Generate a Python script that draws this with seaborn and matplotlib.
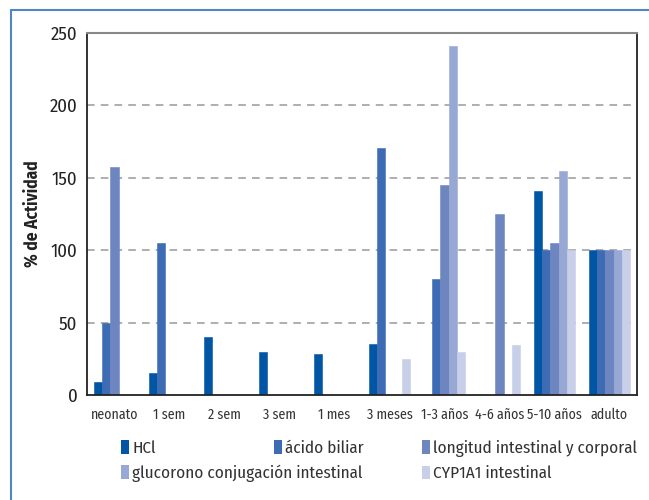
import matplotlib
matplotlib.use("Agg")
import matplotlib.pyplot as plt
from matplotlib.lines import Line2D
from matplotlib.patches import Patch
import numpy as np
import pandas as pd
import seaborn as sns

# Age groups and relative activity (%) of each developmental factor
categories = ["neonato", "1 sem", "2 sem", "3 sem", "1 mes", "3 meses",
              "1-3 años", "4-6 años", "5-10 años", "adulto"]
series = ["HCl", "ácido biliar", "longitud intestinal y corporal",
          "glucorono conjugación intestinal", "CYP1A1 intestinal"]
hcl = [9, 15, 40, 30, 28.5, 35, 0, 0, 141, 100]
acido_biliar = [50, 105, 0, 0, 0, 170.5, 80, 0, 100, 100]
longitud = [157.5, 0, 0, 0, 0, 0, 145, 125, 105, 100]
glucorono = [0, 0, 0, 0, 0, 0, 241, 0, 155, 100]
cyp1a1 = [0, 0, 0, 0, 0, 25, 30, 34.5, 100, 100]
y_ticks = [0, 50, 100, 150, 200, 250]

colors = ["#0055A5", "#3D6CB5", "#6D86C0", "#98A8D4", "#C8CFE8"]

df = pd.DataFrame({
    "edad": np.tile(categories, len(series)),
    "serie": np.repeat(series, len(categories)),
    "valor": hcl + acido_biliar + longitud + glucorono + cyp1a1,
})

sns.set_theme(style="white")
plt.rcParams["font.family"] = ["Fira Sans Condensed", "DejaVu Sans"]

fig = plt.figure(figsize=(6.49, 5.0), dpi=100)
ax = fig.add_axes([87 / 649, 1 - 395 / 500, 550 / 649, 362 / 500])

sns.barplot(data=df, x="edad", y="valor", hue="serie", order=categories,
            hue_order=series, palette=colors, width=0.76, gap=0,
            saturation=1, legend=False, ax=ax, linewidth=0)
# close the hairline seams between adjacent bars
for bar in ax.patches:
    if bar.get_height() > 0:
        bar.set_edgecolor(bar.get_facecolor())
        bar.set_linewidth(0.4)

ax.set_xlim(-0.5, len(categories) - 0.5)
ax.set_ylim(0, 250)
ax.set_yticks(y_ticks)
ax.set_yticklabels([str(v) for v in y_ticks], fontsize=13.5, color="#222222")
ax.set_xticks(range(len(categories)))
ax.set_xticklabels(categories, fontsize=10, color="#333333")
ax.set_xticks(np.arange(-0.5, len(categories)), minor=True)
ax.tick_params(axis="x", which="major", length=0, pad=9)
ax.tick_params(axis="x", which="minor", length=5, width=1.2, color="#222222",
               direction="out")
ax.tick_params(axis="y", length=4, width=1.2, color="#222222", direction="out", pad=3)
ax.set_xlabel("")
ax.set_ylabel("% de Actividad", fontsize=12.5, fontweight="bold", color="#222222",
              labelpad=6)

for v in y_ticks[1:-1]:
    ax.axhline(v, color="#999999", lw=1.1, ls=(0, (5, 4)), zorder=0)

for side in ["left", "bottom", "right"]:
    ax.spines[side].set_color("#222222")
    ax.spines[side].set_linewidth(1.3)
ax.spines["top"].set_color("#888888")
ax.spines["top"].set_linewidth(1.5)

# Legend laid out in three columns; the long label in the second row
# runs into the middle column.
handles = [Patch(facecolor=c, edgecolor="none") for c in colors]
columns = [([0, 3], 121), ([1], 274), ([2, 4], 422)]
for idx, xpix in columns:
    fig.legend([handles[i] for i in idx], [series[i] for i in idx],
               loc="upper left", bbox_to_anchor=(xpix / 649, 1 - 440 / 500),
               frameon=False, handlelength=0.47, handleheight=0.85,
               handletextpad=0.2, borderpad=0, borderaxespad=0,
               labelspacing=0.5, labelcolor="#333333",
               prop={"size": 12.3})

# Blue frame along the top and left edges of the figure
fig.add_artist(Line2D([11 / 649, 11 / 649], [0, 1 - 10 / 500],
                      transform=fig.transFigure, color="#4F86C6", lw=1.5))
fig.add_artist(Line2D([11 / 649, 1], [1 - 10 / 500, 1 - 10 / 500],
                      transform=fig.transFigure, color="#4F86C6", lw=1.5))

fig.savefig("out.png", dpi=100)
